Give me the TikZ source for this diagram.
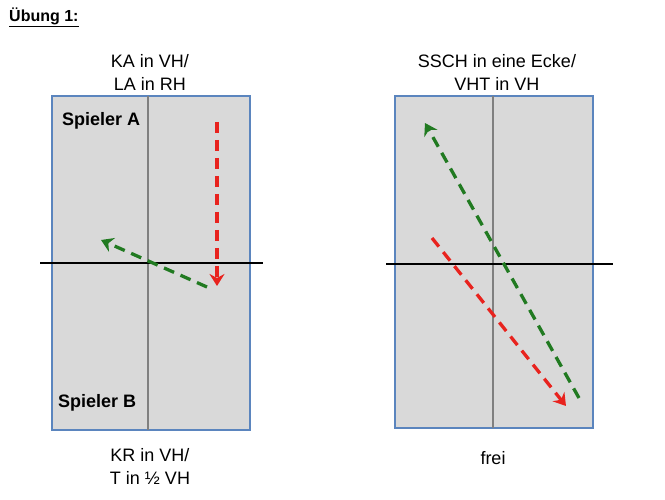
\documentclass[tikz,border=0pt]{standalone}
\usepackage{fontspec}
\setmainfont{Liberation Sans}
\usetikzlibrary{arrows.meta}
\definecolor{courtfill}{HTML}{D9D9D9}
\definecolor{courtedge}{HTML}{5B85BE}
\definecolor{ballred}{HTML}{E8231E}
\definecolor{ballgreen}{HTML}{217A21}
\tikzset{
  court/.style={draw=courtedge, fill=courtfill, line width=2pt},
  midline/.style={draw=gray, line width=1.6pt},
  netline/.style={draw=black, line width=2pt},
  lbl/.style={font=\fontsize{18}{23}\selectfont, align=center, inner sep=0pt},
  player/.style={font=\bfseries\fontsize{18}{20}\selectfont, inner sep=0pt},
  ball/.style={line width=3.3pt, dash pattern=on 11pt off 7pt, -{Stealth[length=12pt,width=15pt,inset=4pt]}},
}
\begin{document}
\begin{tikzpicture}[x=1pt,y=-1pt]
\useasboundingbox (0,0) rectangle (665,500);
% title
\node[font=\bfseries\fontsize{16}{18}\selectfont, anchor=west, inner sep=0pt] (title) at (9,17) {\underline{Übung 1:}};
% left court
\draw[court] (52,96) rectangle (250,430);
\draw[midline] (148,96) -- (148,430);
\draw[netline] (40,263) -- (263,263);
\node[lbl] (lt) at (150,72) {KA in VH/\\LA in RH};
\node[lbl] (lb) at (150,466) {KR in VH/\\T in ½ VH};
\node[player, anchor=west] (pa) at (62,121) {Spieler A};
\node[player, anchor=west] (pb) at (58,403) {Spieler B};
\coordinate (r1s) at (217,122);
\coordinate (r1e) at (217,286);
\coordinate (g1s) at (207,287);
\coordinate (g1e) at (101,240);
\draw[ball, ballred] (r1s) -- (r1e);
\draw[ball, ballgreen] (g1s) -- (g1e);
% right court
\draw[court] (395,96) rectangle (593,428);
\draw[midline] (493,96) -- (493,428);
\draw[netline] (386,264) -- (613,264);
\node[lbl] (rt) at (497,72) {SSCH in eine Ecke/\\VHT in VH};
\node[lbl] (rb) at (493,458) {frei};
\coordinate (g2s) at (579,398);
\coordinate (g2e) at (425,123);
\coordinate (r2s) at (432,238);
\coordinate (r2e) at (566,406);
\draw[ball, ballgreen] (g2s) -- (g2e);
\draw[ball, ballred] (r2s) -- (r2e);
\end{tikzpicture}
\end{document}
